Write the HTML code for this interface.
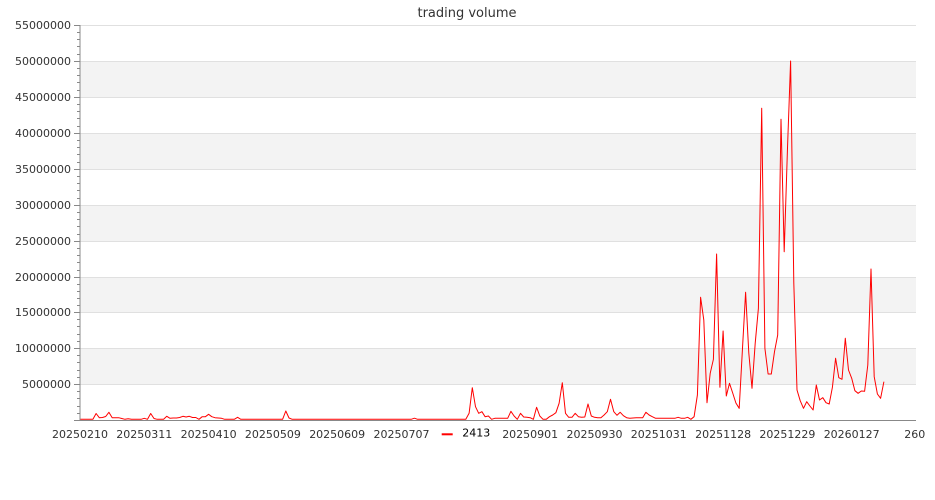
<!DOCTYPE html>
<html>
<head>
<meta charset="utf-8">
<style>
  html, body { margin: 0; padding: 0; background: #ffffff; }
  svg { display: block; }
  text { font-family: "DejaVu Sans", "Liberation Sans", sans-serif; }
</style>
</head>
<body>
<svg width="935" height="500" viewBox="0 0 935 500" xmlns="http://www.w3.org/2000/svg">
  <rect x="0" y="0" width="935" height="500" fill="#ffffff"/>
  <!-- title -->
  <text x="467" y="17" font-size="13" fill="#333333" text-anchor="middle">trading volume</text>

  <!-- bands -->
  <rect x="80" y="61" width="836" height="36" fill="#f3f3f3"/>
  <rect x="80" y="133" width="836" height="36" fill="#f3f3f3"/>
  <rect x="80" y="205" width="836" height="36" fill="#f3f3f3"/>
  <rect x="80" y="277" width="836" height="36" fill="#f3f3f3"/>
  <rect x="80" y="348" width="836" height="36" fill="#f3f3f3"/>

  <!-- grid lines -->
  <g fill="#e0e0e0">
    <rect x="80" y="25" width="836" height="1"/>
    <rect x="80" y="61" width="836" height="1"/>
    <rect x="80" y="97" width="836" height="1"/>
    <rect x="80" y="133" width="836" height="1"/>
    <rect x="80" y="169" width="836" height="1"/>
    <rect x="80" y="205" width="836" height="1"/>
    <rect x="80" y="241" width="836" height="1"/>
    <rect x="80" y="277" width="836" height="1"/>
    <rect x="80" y="312" width="836" height="1"/>
    <rect x="80" y="348" width="836" height="1"/>
    <rect x="80" y="384" width="836" height="1"/>
  </g>

  <!-- y labels -->
  <g font-size="11" fill="#333333" text-anchor="end">
    <text x="71" y="29">55000000</text>
    <text x="71" y="65">50000000</text>
    <text x="71" y="101">45000000</text>
    <text x="71" y="137">40000000</text>
    <text x="71" y="173">35000000</text>
    <text x="71" y="209">30000000</text>
    <text x="71" y="245">25000000</text>
    <text x="71" y="281">20000000</text>
    <text x="71" y="316">15000000</text>
    <text x="71" y="352">10000000</text>
    <text x="71" y="388">5000000</text>
  </g>

  <!-- data line -->
  <polyline fill="none" stroke="#ff0000" stroke-width="1" stroke-linejoin="round"
    points="80,419.3 92.9,419.3 96.1,413.5 99.3,417.7 102.5,417.5 105.7,416.5 108.9,412.3 112.2,417.7 115.4,417.7 118.6,417.7 121.8,418.5 125,419.3 128.2,418.7 131.4,419.3 141.1,419.3 144.3,418.3 147.5,419.3 150.7,413.5 154,418.5 157.2,419.3 163.6,419.3 166.8,416.3 170,418.3 173.2,418 176.5,418 179.7,417.5 182.9,416.3 186.1,417 189.3,416.3 192.5,417.5 195.8,417.5 199,419.3 202.2,416.7 205.4,416.7 208.6,414.3 211.8,416.7 215,417.7 218.3,418 221.5,418.3 224.7,419.3 234.3,419.3 237.6,417.3 240.8,419.3 282.6,419.3 285.8,411 289,418 292.2,419.3 411.2,419.3 414.4,418.2 417.6,419.3 465.8,419.3 469.1,413.3 472.3,387.7 475.5,406.7 478.7,413.3 481.9,411.7 485.1,416.7 488.4,416 491.6,419.3 494.8,418.3 507.7,418.3 510.9,411.3 514.1,416 517.3,419.3 520.5,413.3 523.7,417 526.9,417.3 530.2,417.7 533.4,419.3 536.6,407.3 539.8,416 543,419.3 546.2,419.3 549.5,416.7 552.7,415 555.9,412.7 559.1,403.3 562.3,382.7 565.5,413.3 568.7,417.3 572,417.3 575.2,413.3 578.4,416.7 581.6,417.3 584.8,417 588,404 591.3,416 594.5,417.3 597.7,417.7 600.9,417.7 604.1,415 607.3,411.7 610.5,399.3 613.8,411.7 617,415.3 620.2,412.3 623.4,415.7 626.6,417.7 629.8,418.3 633,418 636.3,417.7 642.7,417.7 645.9,412.3 649.1,415 652.3,416.7 655.6,418.3 674.8,418.3 678.1,417.3 681.3,418.3 684.5,418.3 687.7,417.3 690.9,419.3 694.1,416.7 697.4,395 700.6,297.3 703.8,320 707,402.7 710.2,373.3 713.4,359.3 716.6,254 719.9,387.3 723.1,331 726.3,396 729.5,383.3 732.7,393 735.9,403 739.2,408.3 742.4,350 745.6,292.3 748.8,353 752,388.3 755.2,343.3 758.4,308.3 761.7,108.3 764.9,348.3 768.1,374 771.3,374 774.5,351.7 777.7,335 781,119.3 784.2,251.7 787.4,151 790.6,61 793.8,283 797,390 800.2,400.7 803.5,408.3 806.7,401.7 809.9,406 813.1,410 816.3,385 819.5,400 822.8,397.7 826,402.7 829.2,404 832.4,387.3 835.6,358.3 838.8,377.7 842,379.3 845.3,338.3 848.5,370 851.7,378.3 854.9,390.7 858.1,393.3 861.3,391 864.6,391.3 867.8,365 871,269 874.2,376.7 877.4,394 880.6,398.3 883.9,381.7"/>

  <!-- axes -->
  <rect x="80" y="420" width="836" height="1" fill="#888888"/>
  <rect x="79.5" y="25" width="1" height="396" fill="#888888"/>
  <!-- y ticks -->
  <g stroke="#888888" stroke-width="1">
    <path d="M74,25.5H80 M74,61.5H80 M74,97.5H80 M74,133.5H80 M74,169.5H80 M74,205.5H80 M74,241.5H80 M74,277.5H80 M74,312.5H80 M74,348.5H80 M74,384.5H80 M74,420.5H80"/>
    <path d="M77,32.5H80 M77,39.5H80 M77,46.5H80 M77,54.5H80
             M77,68.5H80 M77,75.5H80 M77,82.5H80 M77,90.5H80
             M77,104.5H80 M77,111.5H80 M77,118.5H80 M77,126.5H80
             M77,140.5H80 M77,147.5H80 M77,154.5H80 M77,162.5H80
             M77,176.5H80 M77,183.5H80 M77,190.5H80 M77,198.5H80
             M77,212.5H80 M77,219.5H80 M77,226.5H80 M77,234.5H80
             M77,248.5H80 M77,255.5H80 M77,262.5H80 M77,270.5H80
             M77,284.5H80 M77,291.5H80 M77,298.5H80 M77,305.5H80
             M77,319.5H80 M77,326.5H80 M77,334.5H80 M77,341.5H80
             M77,355.5H80 M77,362.5H80 M77,370.5H80 M77,377.5H80
             M77,391.5H80 M77,398.5H80 M77,406.5H80 M77,413.5H80"/>
  </g>

  <!-- x labels -->
  <g font-size="11" fill="#333333" text-anchor="middle">
    <text x="80" y="438">20250210</text>
    <text x="144.3" y="438">20250311</text>
    <text x="208.6" y="438">20250410</text>
    <text x="272.9" y="438">20250509</text>
    <text x="337.2" y="438">20250609</text>
    <text x="401.5" y="438">20250707</text>
    <text x="530.2" y="438">20250901</text>
    <text x="594.5" y="438">20250930</text>
    <text x="658.8" y="438">20251031</text>
    <text x="723.1" y="438">20251128</text>
    <text x="787.4" y="438">20251229</text>
    <text x="851.7" y="438">20260127</text>
  </g>
  <text x="904.3" y="438" font-size="11" fill="#333333">260</text>

  <!-- legend -->
  <rect x="441.7" y="433.3" width="11" height="2" fill="#ff0000"/>
  <text x="462.3" y="436.5" font-size="11" fill="#000000">2413</text>
</svg>
</body>
</html>
